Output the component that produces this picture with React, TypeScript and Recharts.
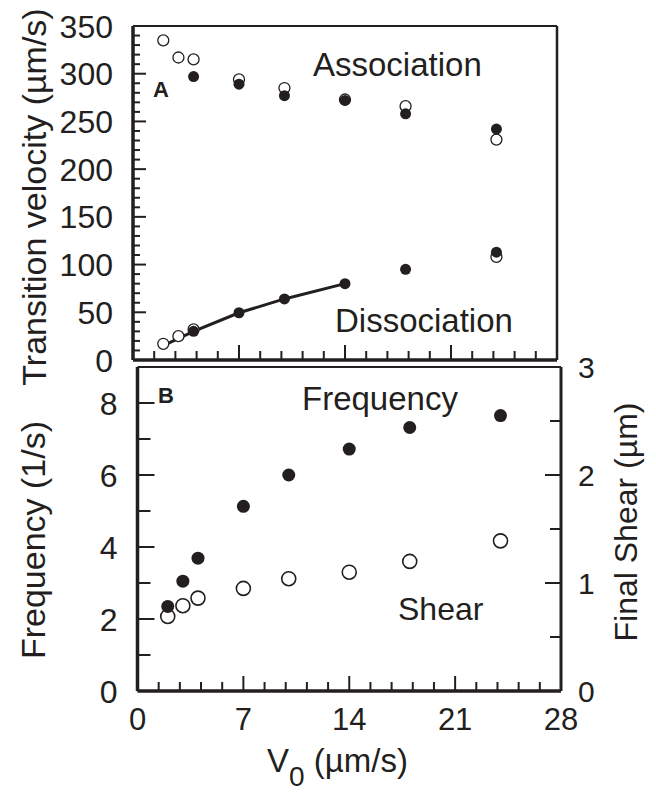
import React from "react";
import {
  ScatterChart,
  Scatter,
  XAxis,
  YAxis,
  ReferenceLine,
} from "recharts";

// panel A: transition velocity vs V0
const assocOpenX = [2, 3, 4, 7, 10, 14, 18, 24];
const assocOpenY = [335, 317, 315, 294, 285, 273, 266, 231];
const assocFilledX = [4, 7, 10, 14, 18, 24];
const assocFilledY = [297, 289, 277, 272, 258, 242];
const dissocFilledX = [4, 7, 10, 14, 18, 24];
const dissocFilledY = [30, 49.5, 64, 80, 95, 113];
const dissocOpenX = [2, 3, 4, 24];
const dissocOpenY = [17, 25, 32, 108];
const fitX = [2, 4, 7, 10, 14];
const fitY = [15, 30, 49.5, 64, 80];

// panel B: frequency and final shear vs V0
const v0 = [2, 3, 4, 7, 10, 14, 18, 24];
const frequency = [2.35, 3.05, 3.69, 5.13, 6.0, 6.72, 7.32, 7.65];
const shear = [0.69, 0.79, 0.86, 0.95, 1.04, 1.1, 1.2, 1.39];

const xTicks = [0, 1.4, 2.8, 4.2, 5.6, 7, 8.4, 9.8, 11.2, 12.6, 14, 15.4, 16.8, 18.2, 19.6, 21, 22.4, 23.8, 25.2, 26.6, 28];
const velTicks = Array.from({ length: 36 }, (_, i) => i * 10);
const freqTicks = [0, 1, 2, 3, 4, 5, 6, 7, 8];
const shearTicks = [0, 0.5, 1, 1.5, 2, 2.5, 3];

const INK = "#231f20";
const FONT = '"Liberation Sans", Arial, Helvetica, sans-serif';

const pts = (xs: number[], ys: number[]) => xs.map((x, i) => ({ x, y: ys[i] }));

const isMult = (v: number, m: number) => Math.abs(v / m - Math.round(v / m)) < 1e-6;

const filledDot = (r: number) => (p: any) => <circle cx={p.cx} cy={p.cy} r={r} fill={INK} />;
const openDot = (r: number, w: number) => (p: any) => (
  <circle cx={p.cx} cy={p.cy} r={r} fill="#fff" stroke={INK} strokeWidth={w} />
);

const bottomTick = (showLabel: boolean) => (p: any) => {
  const v = p.payload.value;
  const major = isMult(v, 7);
  const len = major ? 15 : 9;
  return (
    <g>
      <line x1={p.x} x2={p.x} y1={p.y} y2={p.y - len} stroke={INK} strokeWidth={2} />
      {showLabel && major && (
        <text x={p.x} y={p.y + 39} textAnchor="middle" fontSize={31} fontFamily={FONT} fill={INK}>
          {v}
        </text>
      )}
    </g>
  );
};

const leftTick = (majorStep: number, labelStep: number, majorLen: number, minorLen: number) => (p: any) => {
  const v = p.payload.value;
  const len = isMult(v, majorStep) ? majorLen : minorLen;
  return (
    <g>
      <line x1={p.x} x2={p.x + len} y1={p.y} y2={p.y} stroke={INK} strokeWidth={2} />
      {isMult(v, labelStep) && (
        <text x={p.x - 20} y={p.y} dy="0.36em" textAnchor="end" fontSize={32} fontFamily={FONT} fill={INK}>
          {v}
        </text>
      )}
    </g>
  );
};

const rightTick = (p: any) => {
  const v = p.payload.value;
  const major = isMult(v, 1);
  return (
    <g>
      <line x1={p.x} x2={p.x - (major ? 16 : 11)} y1={p.y} y2={p.y} stroke={INK} strokeWidth={2} />
      {major && (
        <text x={p.x + 17} y={p.y} dy="0.36em" textAnchor="start" fontSize={30} fontFamily={FONT} fill={INK}>
          {v}
        </text>
      )}
    </g>
  );
};

const txt = { fontFamily: FONT, fill: INK };

export default function App() {
  return (
    <div style={{ position: "absolute", left: 0, top: 0, width: 656, height: 792, background: "#fff" }}>
      <div style={{ position: "absolute", left: 0, top: 0 }}>
        <ScatterChart width={656} height={792} margin={{ top: 26, right: 99, bottom: 0, left: 0 }}>
          <XAxis
            type="number"
            dataKey="x"
            domain={[0, 28]}
            ticks={xTicks}
            interval={0}
            height={432}
            tickSize={0}
            tickMargin={0}
            tickLine={false}
            axisLine={{ stroke: INK, strokeWidth: 3.5 }}
            tick={bottomTick(false)}
          />
          <YAxis
            type="number"
            dataKey="y"
            domain={[0, 350]}
            ticks={velTicks}
            interval={0}
            width={133}
            tickSize={0}
            tickMargin={0}
            tickLine={false}
            axisLine={{ stroke: INK, strokeWidth: 3.5 }}
            tick={leftTick(50, 50, 13, 7)}
          />
          <ReferenceLine y={350} stroke={INK} strokeWidth={2} />
          <ReferenceLine x={28} stroke={INK} strokeWidth={2.5} />
          <Scatter data={pts(fitX, fitY)} line={{ stroke: INK, strokeWidth: 3 }} shape={() => null} isAnimationActive={false} />
          <Scatter data={pts(assocOpenX, assocOpenY)} shape={openDot(5.5, 1.3)} isAnimationActive={false} />
          <Scatter data={pts(dissocOpenX, dissocOpenY)} shape={openDot(5.5, 1.3)} isAnimationActive={false} />
          <Scatter data={pts(assocFilledX, assocFilledY)} shape={filledDot(5.5)} isAnimationActive={false} />
          <Scatter data={pts(dissocFilledX, dissocFilledY)} shape={filledDot(5.5)} isAnimationActive={false} />
          <text x={153} y={97} fontSize={22} fontWeight="bold" {...txt}>A</text>
          <text x={313} y={76} fontSize={33} {...txt}>Association</text>
          <text x={335} y={332} fontSize={33} {...txt}>Dissociation</text>
          <text transform="translate(46,197) rotate(-90)" textAnchor="middle" fontSize={34} {...txt}>
            Transition velocity (µm/s)
          </text>
        </ScatterChart>
      </div>
      <div style={{ position: "absolute", left: 0, top: 0 }}>
        <ScatterChart width={656} height={792} margin={{ top: 367, right: 0, bottom: 0, left: 0 }}>
          <XAxis
            type="number"
            dataKey="x"
            domain={[0, 28]}
            ticks={xTicks}
            interval={0}
            height={101}
            tickSize={0}
            tickMargin={0}
            tickLine={false}
            axisLine={{ stroke: INK, strokeWidth: 3.5 }}
            tick={bottomTick(true)}
          />
          <YAxis
            yAxisId="freq"
            type="number"
            dataKey="y"
            domain={[0, 9]}
            ticks={freqTicks}
            interval={0}
            width={137.5}
            tickSize={0}
            tickMargin={0}
            tickLine={false}
            axisLine={{ stroke: INK, strokeWidth: 3.5 }}
            tick={leftTick(2, 2, 17, 13)}
          />
          <YAxis
            yAxisId="shear"
            orientation="right"
            type="number"
            dataKey="y"
            domain={[0, 3]}
            ticks={shearTicks}
            interval={0}
            width={95}
            tickSize={0}
            tickMargin={0}
            tickLine={false}
            axisLine={{ stroke: INK, strokeWidth: 3 }}
            tick={rightTick}
          />
          <ReferenceLine yAxisId="freq" y={9} stroke={INK} strokeWidth={2} />
          <Scatter yAxisId="shear" data={pts(v0, shear)} shape={openDot(7, 1.6)} isAnimationActive={false} />
          <Scatter yAxisId="freq" data={pts(v0, frequency)} shape={filledDot(6.5)} isAnimationActive={false} />
          <text x={158} y={403} fontSize={22} fontWeight="bold" {...txt}>B</text>
          <text x={302} y={410} fontSize={33} {...txt}>Frequency</text>
          <text x={398} y={620} fontSize={32} {...txt}>Shear</text>
          <text transform="translate(45,540) rotate(-90)" textAnchor="middle" fontSize={34} {...txt}>
            Frequency (1/s)
          </text>
          <text transform="translate(637,522) rotate(-90)" textAnchor="middle" fontSize={32} {...txt}>
            Final Shear (µm)
          </text>
          <text x={267} y={772} fontSize={33} {...txt}>
            V
            <tspan fontSize={28} dy={14}>0</tspan>
            <tspan dy={-14}> (µm/s)</tspan>
          </text>
        </ScatterChart>
      </div>
    </div>
  );
}
